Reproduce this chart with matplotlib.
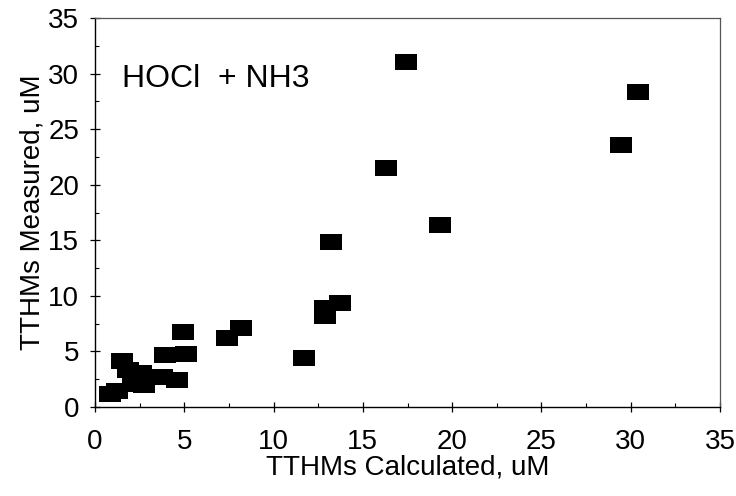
import matplotlib
matplotlib.use("Agg")
import matplotlib.pyplot as plt
from matplotlib.path import Path
from matplotlib.ticker import MultipleLocator

# TTHMs calculated vs measured (uM)
calculated = [17.4, 30.4, 29.45, 16.3, 19.3, 13.2, 13.7, 12.9, 12.9, 11.7,
              8.2, 7.4, 4.9, 5.1, 3.9, 1.5, 1.85, 2.6, 2.1, 2.75, 3.75,
              4.6, 0.85, 1.25]
measured = [31.0, 28.3, 23.6, 21.5, 16.4, 14.85, 9.4, 8.9, 8.2, 4.4,
            7.1, 6.2, 6.75, 4.8, 4.7, 4.15, 3.3, 3.1, 2.1, 2.0, 2.7,
            2.4, 1.2, 1.45]

x_ticks = [0, 5, 10, 15, 20, 25, 30, 35]
y_ticks = [0, 5, 10, 15, 20, 25, 30, 35]

plt.rcParams['font.family'] = ['Liberation Sans', 'DejaVu Sans']

fig = plt.figure(figsize=(7.36, 4.96), dpi=100)
ax = fig.add_axes([95 / 736, 1 - 407 / 496, 625 / 736, 389 / 496])

# wide rectangular marker
rect = Path([(-1.4, -1.0), (1.4, -1.0), (1.4, 1.0), (-1.4, 1.0), (-1.4, -1.0)],
            [Path.MOVETO, Path.LINETO, Path.LINETO, Path.LINETO, Path.CLOSEPOLY])
ax.scatter(calculated, measured, marker=rect, s=250, color='black',
           linewidths=0, zorder=3)

ax.set_xlim(0, 35)
ax.set_ylim(0, 35)
ax.set_xticks(x_ticks)
ax.set_yticks(y_ticks)
ax.xaxis.set_minor_locator(MultipleLocator(2.5))
ax.yaxis.set_minor_locator(MultipleLocator(2.5))
ax.tick_params(which='major', direction='inout', length=7, width=0.9,
               labelsize=20, pad=8)
ax.tick_params(axis='x', which='major', pad=12)
ax.tick_params(which='minor', direction='in', length=3, width=0.8)
ax.tick_params(top=False, right=False)

for side in ['left', 'bottom']:
    ax.spines[side].set_linewidth(1.0)
for side in ['top', 'right']:
    ax.spines[side].set_linewidth(0.9)
    ax.spines[side].set_color('#555555')

ax.set_xlabel('TTHMs Calculated, uM', fontsize=20, labelpad=0)
ax.set_ylabel('TTHMs Measured, uM', fontsize=20, labelpad=2)

ax.text(1.5, 29.5, 'HOCl  + NH3', fontsize=23, va='center', ha='left')

fig.savefig('out.png', dpi=100)
